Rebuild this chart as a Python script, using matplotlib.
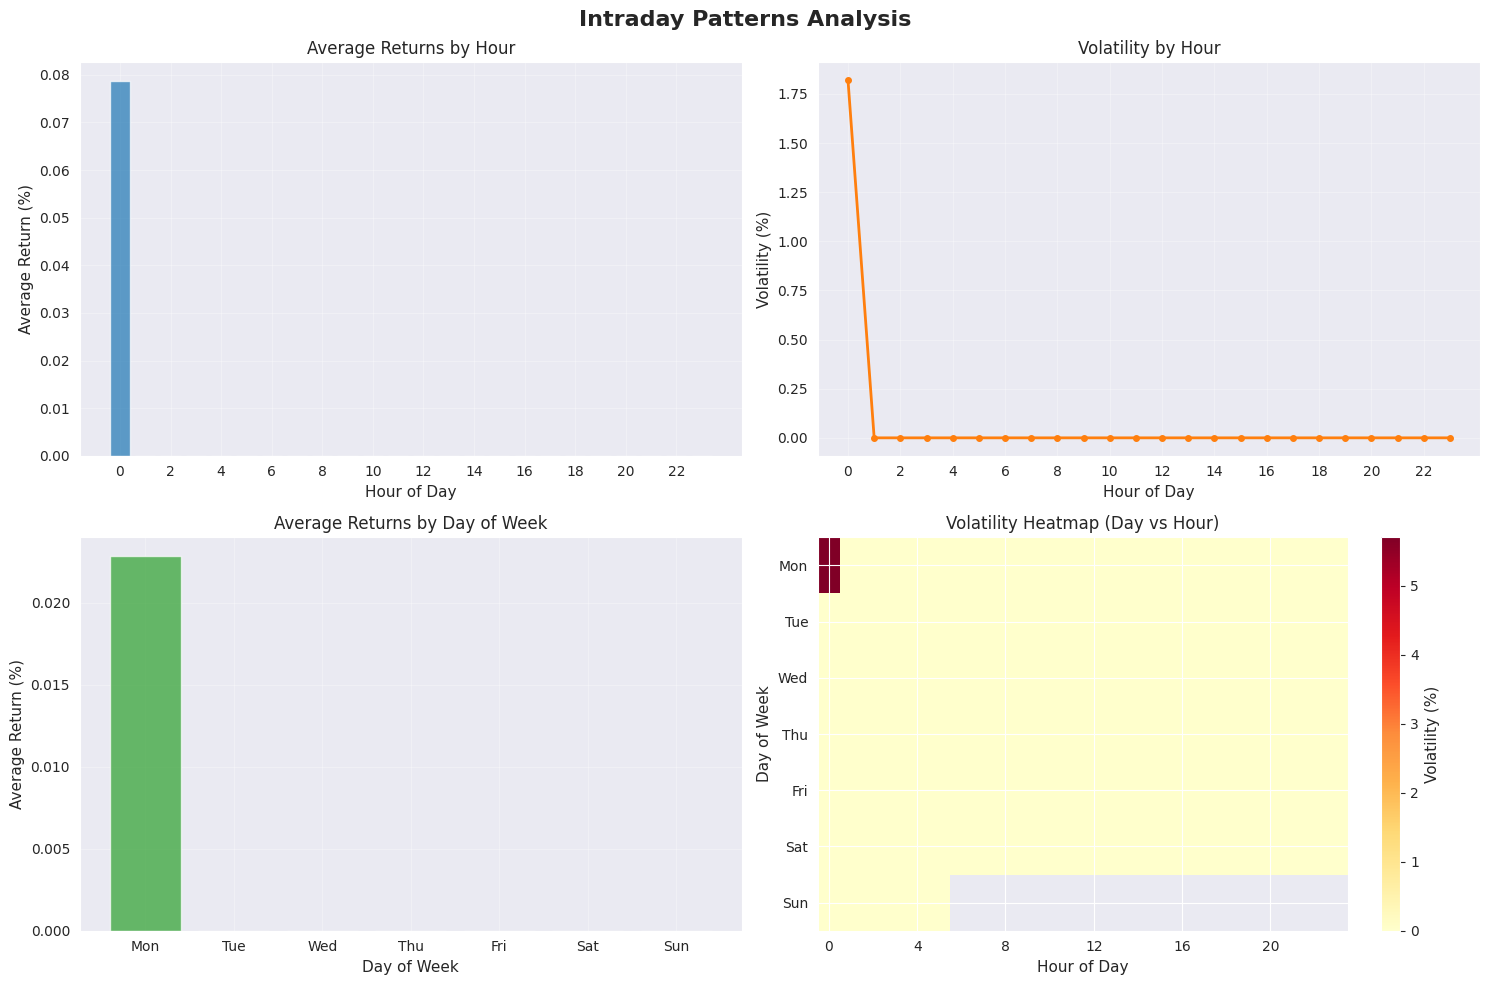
import numpy as np
import matplotlib
matplotlib.use("Agg")
import matplotlib.pyplot as plt
import seaborn as sns

sns.set_style("darkgrid")
plt.rcParams['font.family'] = ['DejaVu Sans']
plt.rcParams['axes.labelsize'] = 11
plt.rcParams['axes.titlesize'] = 12

hours = [0, 1, 2, 3, 4, 5, 6, 7, 8, 9, 10, 11, 12, 13, 14, 15, 16, 17, 18, 19, 20, 21, 22, 23]
avg_return_by_hour = [0.0787, 0, 0, 0, 0, 0, 0, 0, 0, 0, 0, 0, 0, 0, 0, 0, 0, 0, 0, 0, 0, 0, 0, 0]
volatility_by_hour = [1.82, 0, 0, 0, 0, 0, 0, 0, 0, 0, 0, 0, 0, 0, 0, 0, 0, 0, 0, 0, 0, 0, 0, 0]

days = ['Mon', 'Tue', 'Wed', 'Thu', 'Fri', 'Sat', 'Sun']
avg_return_by_day = [0.02285, 0, 0, 0, 0, 0, 0]

nan = np.nan
heat_mon = [5.70, 0, 0, 0, 0, 0, 0, 0, 0, 0, 0, 0, 0, 0, 0, 0, 0, 0, 0, 0, 0, 0, 0, 0]
heat_tue = [0, 0, 0, 0, 0, 0, 0, 0, 0, 0, 0, 0, 0, 0, 0, 0, 0, 0, 0, 0, 0, 0, 0, 0]
heat_wed = [0, 0, 0, 0, 0, 0, 0, 0, 0, 0, 0, 0, 0, 0, 0, 0, 0, 0, 0, 0, 0, 0, 0, 0]
heat_thu = [0, 0, 0, 0, 0, 0, 0, 0, 0, 0, 0, 0, 0, 0, 0, 0, 0, 0, 0, 0, 0, 0, 0, 0]
heat_fri = [0, 0, 0, 0, 0, 0, 0, 0, 0, 0, 0, 0, 0, 0, 0, 0, 0, 0, 0, 0, 0, 0, 0, 0]
heat_sat = [0, 0, 0, 0, 0, 0, 0, 0, 0, 0, 0, 0, 0, 0, 0, 0, 0, 0, 0, 0, 0, 0, 0, 0]
heat_sun = [0, 0, 0, 0, 0, 0, nan, nan, nan, nan, nan, nan, nan, nan, nan, nan, nan, nan,
            nan, nan, nan, nan, nan, nan]

fig, axes = plt.subplots(2, 2, figsize=(15, 10), dpi=100)
fig.suptitle('Intraday Patterns Analysis', fontsize=16, fontweight='bold')

ax = axes[0, 0]
ax.bar(hours, avg_return_by_hour, color='#1f77b4', alpha=0.7)
ax.set_title('Average Returns by Hour')
ax.set_xlabel('Hour of Day')
ax.set_ylabel('Average Return (%)')
ax.set_xticks(range(0, 24, 2))
ax.grid(True, alpha=0.3)

ax = axes[0, 1]
ax.plot(hours, volatility_by_hour, color='#ff7f0e', marker='o', linewidth=2, markersize=4)
ax.set_title('Volatility by Hour')
ax.set_xlabel('Hour of Day')
ax.set_ylabel('Volatility (%)')
ax.set_xticks(range(0, 24, 2))
ax.grid(True, alpha=0.3)

ax = axes[1, 0]
ax.bar(range(len(days)), avg_return_by_day, color='#2ca02c', alpha=0.7)
ax.set_title('Average Returns by Day of Week')
ax.set_xlabel('Day of Week')
ax.set_ylabel('Average Return (%)')
ax.set_xticks(range(len(days)))
ax.set_xticklabels(days)
ax.grid(True, alpha=0.3)

ax = axes[1, 1]
heat = np.array([heat_mon, heat_tue, heat_wed, heat_thu, heat_fri, heat_sat, heat_sun])
im = ax.imshow(heat, cmap='YlOrRd', aspect='auto')
ax.set_title('Volatility Heatmap (Day vs Hour)')
ax.set_xlabel('Hour of Day')
ax.set_ylabel('Day of Week')
ax.set_yticks(range(len(days)))
ax.set_yticklabels(days)
ax.set_xticks(range(0, 24, 4))
cbar = fig.colorbar(im, ax=ax)
cbar.set_label('Volatility (%)')

plt.tight_layout()
plt.savefig('out.png', dpi=100, bbox_inches='tight')
